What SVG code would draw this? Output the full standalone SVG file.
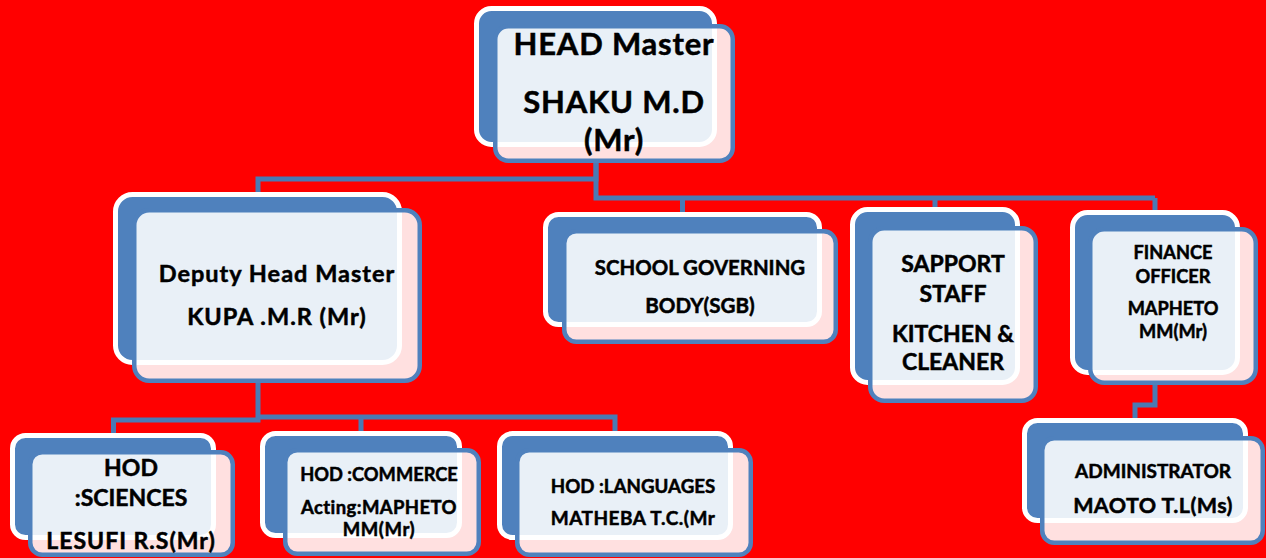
<svg xmlns="http://www.w3.org/2000/svg" width="1266" height="558" viewBox="0 0 1266 558">
<style>
.bk{fill:#4f81bd;stroke:#ffffff;stroke-width:5}
.fr{fill:#ffffff;fill-opacity:0.88;stroke:#4f81bd;stroke-width:4.5}
.cn{fill:none;stroke:#4a7ab4;stroke-width:5;stroke-linejoin:miter}
text{font-family:Lato,"Open Sans","Liberation Sans",sans-serif;font-weight:bold;fill:#000;stroke:#000;stroke-width:0.5;text-anchor:middle}
</style>
<rect width="1266" height="558" fill="#ff0000"/>
<g id="connectors">
<path class="cn" d="M596 163 V179 H258 V193"/>
<path class="cn" d="M596 163 V198 H1155"/>
<path class="cn" d="M682.5 198 V213"/>
<path class="cn" d="M935 198 V208"/>
<path class="cn" d="M1155 198 V211"/>
<path class="cn" d="M258 383 V420 H113.5 V434"/>
<path class="cn" d="M258 417 H615 V432"/>
<path class="cn" d="M361 417 V432"/>
<path class="cn" d="M1155 385 V405 H1135 V420"/>
</g>
<g id="head">
<rect class="bk" x="476.5" y="8.5" width="238" height="136" rx="15"/>
<rect class="fr" x="495.25" y="26.25" width="237.5" height="134.5" rx="13"/>
<text x="614" y="55" font-size="31" letter-spacing="0.8">HEAD Master</text>
<text x="614" y="113" font-size="31" letter-spacing="0.8">SHAKU M.D</text>
<text x="614" y="151" font-size="31" letter-spacing="0.8">(Mr)</text>
</g>
<g id="deputy">
<rect class="bk" x="115.5" y="194.5" width="284" height="168" rx="17"/>
<rect class="fr" x="134.25" y="210.25" width="285.5" height="170.5" rx="15"/>
<text x="277" y="282" font-size="23.5" letter-spacing="1">Deputy Head Master</text>
<text x="277" y="325" font-size="23.5" letter-spacing="1">KUPA .M.R (Mr)</text>
</g>
<g id="sgb">
<rect class="bk" x="545.5" y="214.5" width="274" height="110" rx="13"/>
<rect class="fr" x="564.25" y="231.25" width="271.5" height="110.5" rx="12"/>
<text x="700" y="275" font-size="20.4">SCHOOL GOVERNING</text>
<text x="700" y="313" font-size="20.6">BODY(SGB)</text>
</g>
<g id="support">
<rect class="bk" x="852.5" y="209.5" width="165" height="173" rx="15"/>
<rect class="fr" x="870.25" y="228.25" width="165.5" height="172.5" rx="14"/>
<text x="953" y="272" font-size="23">SAPPORT</text>
<text x="953" y="302" font-size="23">STAFF</text>
<text x="953" y="342" font-size="23">KITCHEN &amp;</text>
<text x="953" y="370" font-size="23">CLEANER</text>
</g>
<g id="finance">
<rect class="bk" x="1072.5" y="212.5" width="165" height="160" rx="15"/>
<rect class="fr" x="1090.25" y="229.25" width="165.5" height="153.5" rx="14"/>
<text x="1173" y="259" font-size="18.2">FINANCE</text>
<text x="1173" y="283" font-size="18.2">OFFICER</text>
<text x="1173" y="315" font-size="18.2">MAPHETO</text>
<text x="1173" y="338" font-size="18.2">MM(Mr)</text>
</g>
<g id="hod-sciences">
<rect class="bk" x="12.5" y="435.5" width="201" height="102" rx="13"/>
<rect class="fr" x="30.25" y="452.25" width="202.5" height="102.5" rx="12"/>
<text x="131" y="476" font-size="23">HOD</text>
<text x="131" y="506" font-size="23">:SCIENCES</text>
<text x="131" y="549" font-size="23" letter-spacing="1">LESUFI R.S(Mr)</text>
</g>
<g id="hod-commerce">
<rect class="bk" x="262.5" y="433.5" width="197" height="102" rx="13"/>
<rect class="fr" x="285.25" y="450.25" width="193.5" height="103.5" rx="12"/>
<text x="379" y="481" font-size="18.3">HOD :COMMERCE</text>
<text x="379" y="514" font-size="18.5" letter-spacing="0.4">Acting:MAPHETO</text>
<text x="379" y="536" font-size="18.5" letter-spacing="0.6">MM(Mr)</text>
</g>
<g id="hod-languages">
<rect class="bk" x="499.5" y="433.5" width="231" height="104" rx="13"/>
<rect class="fr" x="517.25" y="450.25" width="233.5" height="104.5" rx="12"/>
<text x="633" y="493" font-size="18.7">HOD :LANGUAGES</text>
<text x="633" y="525" font-size="19" letter-spacing="0.5">MATHEBA T.C.(Mr</text>
</g>
<g id="administrator">
<rect class="bk" x="1024.5" y="420.5" width="221" height="100" rx="13"/>
<rect class="fr" x="1042.25" y="438.25" width="220.5" height="104.5" rx="12"/>
<text x="1153" y="478" font-size="19">ADMINISTRATOR</text>
<text x="1153" y="513" font-size="21.5" letter-spacing="0.4">MAOTO T.L(Ms)</text>
</g>
</svg>
